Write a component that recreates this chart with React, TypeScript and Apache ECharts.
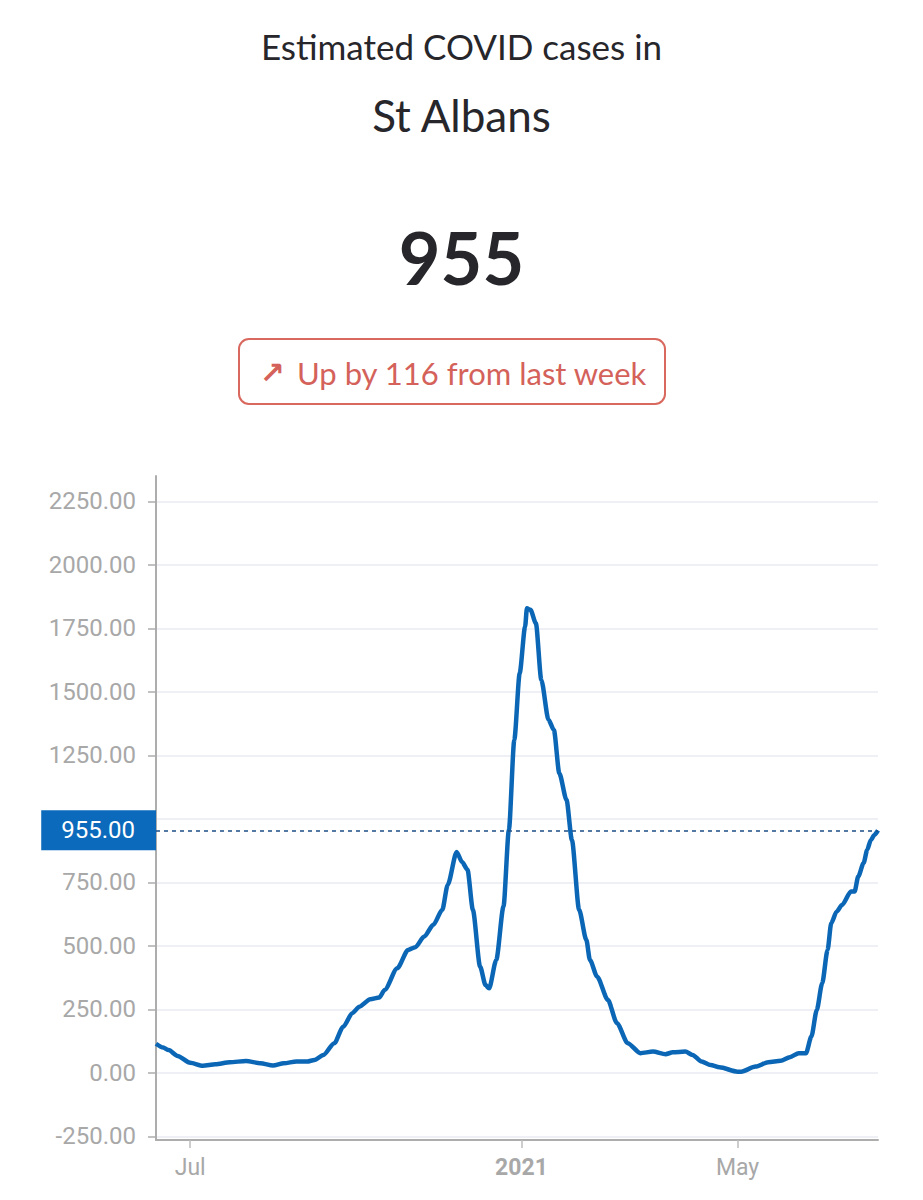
import React, { useEffect, useRef } from "react";
import * as echarts from "echarts";

const dates: string[] = [
  "2020-06-12", "2020-06-16", "2020-06-19", "2020-06-24", "2020-07-01", "2020-07-08",
  "2020-07-15", "2020-07-23", "2020-08-01", "2020-08-09", "2020-08-16", "2020-08-22",
  "2020-08-29", "2020-09-04", "2020-09-08", "2020-09-13", "2020-09-19", "2020-09-24",
  "2020-09-29", "2020-10-03", "2020-10-09", "2020-10-14", "2020-10-17", "2020-10-24",
  "2020-10-30", "2020-11-03", "2020-11-08", "2020-11-13", "2020-11-18", "2020-11-21",
  "2020-11-26", "2020-11-29", "2020-12-02", "2020-12-05", "2020-12-09", "2020-12-12",
  "2020-12-14", "2020-12-18", "2020-12-22", "2020-12-25", "2020-12-28", "2020-12-31",
  "2021-01-03", "2021-01-04", "2021-01-06", "2021-01-09", "2021-01-12", "2021-01-16",
  "2021-01-19", "2021-01-22", "2021-01-26", "2021-01-29", "2021-02-02", "2021-02-06",
  "2021-02-08", "2021-02-12", "2021-02-18", "2021-02-23", "2021-03-01", "2021-03-08",
  "2021-03-15", "2021-03-22", "2021-03-26", "2021-04-02", "2021-04-06", "2021-04-11",
  "2021-04-16", "2021-04-21", "2021-05-01", "2021-05-03", "2021-05-11", "2021-05-18",
  "2021-05-25", "2021-05-30", "2021-06-04", "2021-06-08", "2021-06-11", "2021-06-14",
  "2021-06-17", "2021-06-20", "2021-06-22", "2021-06-25", "2021-06-28", "2021-07-03",
  "2021-07-05", "2021-07-07", "2021-07-10", "2021-07-12", "2021-07-14", "2021-07-16",
  "2021-07-18",
];

const cases: number[] = [
  115, 100, 90, 67, 40, 28,
  34, 42, 47, 38, 29, 38,
  45, 45, 51, 71, 117, 182,
  235, 261, 290, 297, 327, 412,
  484, 495, 537, 583, 642, 740,
  870, 830, 800, 642, 419, 346,
  333, 445, 655, 957, 1311, 1574,
  1757, 1829, 1823, 1770, 1547, 1390,
  1350, 1180, 1075, 917, 642, 524,
  445, 379, 287, 196, 117, 78,
  84, 74, 81, 84, 71, 45,
  31, 22, 5, 5, 25, 42,
  48, 62, 78, 78, 143, 248,
  353, 484, 589, 635, 661, 714,
  714, 773, 826, 878, 917, 937,
  955,
];

const yTicks: number[] = [-250, 0, 250, 500, 750, 1000, 1250, 1500, 1750, 2000, 2250];
// the 1000.00 label sits hidden under the current-value box in the original
const yLabels: number[] = [-250, 0, 250, 500, 750, 1250, 1500, 1750, 2000, 2250];
const xTicks: string[] = ["2020-07-01", "2021-01-01", "2021-05-01"];
const xRange: string[] = ["2020-06-12", "2021-07-18"];
const monthNames: string[] = ["Jan", "Feb", "Mar", "Apr", "May", "Jun", "Jul", "Aug", "Sep", "Oct", "Nov", "Dec"];

const currentValue = 955;
const changeValue = 116;
const place = "St Albans";

const ts = (d: string) => Date.UTC(+d.slice(0, 4), +d.slice(5, 7) - 1, +d.slice(8, 10));

export default function App() {
  const ref = useRef<HTMLDivElement>(null);

  useEffect(() => {
    document.body.style.margin = "0";
    const chart = echarts.init(ref.current!, null, { renderer: "svg" });
    const headFont = "Lato, 'Noto Sans', sans-serif";
    const axisFont = "Roboto, sans-serif";
    const xTickValues = xTicks.map(ts);

    chart.setOption({
      animation: false,
      backgroundColor: "#ffffff",
      graphic: [
        {
          type: "text",
          x: 461.5,
          y: 46,
          style: {
            text: "Estimated COVID cases in",
            fontFamily: headFont,
            fontSize: 35,
            fill: "#26262b",
            align: "center",
            verticalAlign: "middle",
          },
        },
        {
          type: "text",
          x: 461.5,
          y: 115,
          style: {
            text: place,
            fontFamily: headFont,
            fontSize: 44,
            fill: "#26262b",
            align: "center",
            verticalAlign: "middle",
          },
        },
        {
          type: "text",
          x: 461.5,
          y: 257,
          style: {
            text: String(currentValue),
            fontFamily: headFont,
            fontSize: 72,
            fontWeight: "bold",
            fill: "#26262b",
            align: "center",
            verticalAlign: "middle",
          },
        },
        {
          type: "rect",
          shape: { x: 239, y: 339, width: 426, height: 65, r: 10 },
          style: { fill: "#ffffff", stroke: "#d9685e", lineWidth: 2 },
        },
        {
          type: "text",
          x: 272,
          y: 372,
          style: {
            text: "↗",
            fontFamily: "DejaVu Sans, sans-serif",
            fontSize: 30,
            fontWeight: "bold",
            fill: "#d4625a",
            align: "center",
            verticalAlign: "middle",
          },
        },
        {
          type: "text",
          x: 297,
          y: 373,
          style: {
            text: "Up by " + changeValue + " from last week",
            fontFamily: headFont,
            fontSize: 31,
            fill: "#d4625a",
            align: "left",
            verticalAlign: "middle",
          },
        },
      ],
      grid: { left: 156, top: 476, width: 722, height: 664 },
      xAxis: {
        type: "value",
        min: ts(xRange[0]),
        max: ts(xRange[1]),
        axisLine: { show: true, onZero: false, lineStyle: { color: "#adadad", width: 2 } },
        axisTick: {
          show: true,
          length: 8,
          customValues: xTickValues,
          lineStyle: { color: "#bdbdbd", width: 1.5 },
        },
        splitLine: { show: false },
        axisLabel: {
          customValues: xTickValues,
          margin: 16,
          color: "#a8a8a8",
          fontFamily: axisFont,
          fontSize: 23,
          formatter: (v: number) => {
            const d = new Date(v);
            if (d.getUTCMonth() === 0) return "{y|" + d.getUTCFullYear() + "}";
            return monthNames[d.getUTCMonth()];
          },
          rich: {
            y: {
              fontFamily: axisFont,
              fontSize: 23,
              fontWeight: "bold",
              color: "#a8a8a8",
            },
          },
        },
      },
      yAxis: {
        type: "value",
        min: -264,
        max: 2350,
        axisLine: { show: true, lineStyle: { color: "#adadad", width: 2 } },
        axisTick: {
          show: true,
          length: 8,
          customValues: yTicks,
          lineStyle: { color: "#adadad", width: 1.5 },
        },
        axisLabel: {
          customValues: yLabels,
          margin: 20,
          color: "#a8a8a8",
          fontFamily: axisFont,
          fontSize: 24,
          formatter: (v: number) => v.toFixed(2),
        },
        splitLine: { show: true, lineStyle: { color: "#eef0f5", width: 2 } },
      },
      series: [
        {
          type: "line",
          data: dates.map((d, i) => [ts(d), cases[i]]),
          showSymbol: false,
          smooth: 0.25,
          smoothMonotone: "x",
          lineStyle: { color: "#0b67b6", width: 4.5 },
          itemStyle: { color: "#0b67b6" },
          markLine: {
            silent: true,
            symbol: "none",
            data: [{ yAxis: currentValue }],
            lineStyle: { color: "#1c4f86", type: [4, 4], width: 1.5 },
            label: {
              position: "start",
              distance: 0,
              formatter: () => currentValue.toFixed(2),
              backgroundColor: "#0b6abb",
              color: "#ffffff",
              fontFamily: axisFont,
              fontSize: 24,
              padding: [8, 21, 8, 20],
            },
          },
        },
      ],
    });

    return () => chart.dispose();
  }, []);

  return <div ref={ref} style={{ width: 923, height: 1200 }} />;
}
